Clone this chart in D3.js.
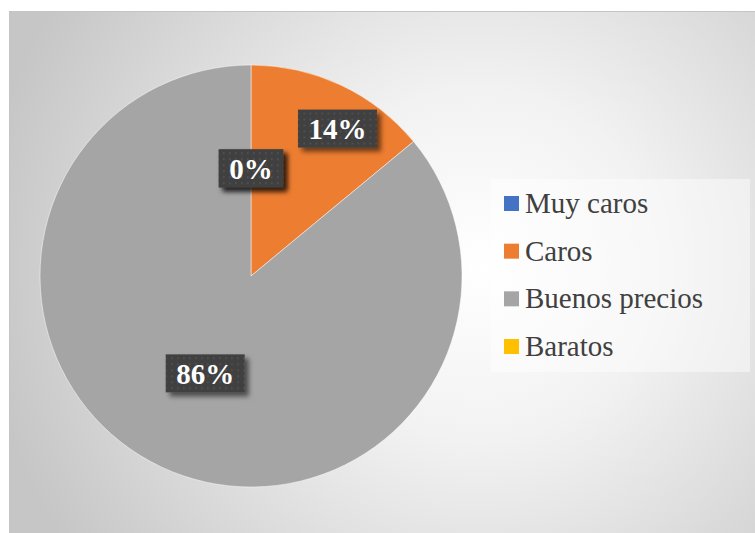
<!DOCTYPE html>
<html>
<head>
<meta charset="utf-8">
<script src="https://cdn.jsdelivr.net/npm/d3@7"></script>
<style>
  html, body { margin: 0; padding: 0; background: #fff; }
  svg { display: block; }
</style>
</head>
<body>
<svg id="chart" width="755" height="533"></svg>
<script>
// Survey answers: opinion on prices
const categories = ["Muy caros", "Caros", "Buenos precios", "Baratos"];
const values = [0, 14, 86, 0];
const labels = ["0%", "14%", "86%", "0%"];
const colors = ["#4472C4", "#ED7D31", "#A5A5A5", "#FFC000"];

const W = 755, H = 533;
const svg = d3.select("#chart");
const defs = svg.append("defs");

// Soft radial background of the chart area
const bg = defs.append("radialGradient")
  .attr("id", "bgGrad")
  .attr("gradientUnits", "userSpaceOnUse")
  .attr("cx", 480).attr("cy", 265).attr("r", 500);
bg.append("stop").attr("offset", "0%").attr("stop-color", "#ffffff");
bg.append("stop").attr("offset", "35%").attr("stop-color", "#f2f2f2");
bg.append("stop").attr("offset", "100%").attr("stop-color", "#c6c6c6");

// Dotted dark fill for the data labels
const pat = defs.append("pattern")
  .attr("id", "dots")
  .attr("patternUnits", "userSpaceOnUse")
  .attr("width", 6).attr("height", 6);
pat.append("rect").attr("width", 6).attr("height", 6).attr("fill", "#404040");
pat.append("rect").attr("x", 2).attr("y", 2).attr("width", 1.6).attr("height", 1.6).attr("fill", "#565656");

const shadow = defs.append("filter")
  .attr("id", "labelShadow")
  .attr("x", "-30%").attr("y", "-30%").attr("width", "160%").attr("height", "170%");
shadow.append("feDropShadow")
  .attr("dx", 4).attr("dy", 4).attr("stdDeviation", 2.5)
  .attr("flood-color", "#000").attr("flood-opacity", 0.55);

// Chart area
svg.append("rect")
  .attr("x", 9.5).attr("y", 11.5)
  .attr("width", W - 9).attr("height", H - 11)
  .attr("fill", "url(#bgGrad)")
  .attr("stroke", "#c4c4c4").attr("stroke-width", 1);

// Pie
const cx = 251, cy = 276, R = 211;
const pie = d3.pie().sort(null).value(d => d.value);
const data = categories.map((c, i) => ({ name: c, value: values[i], label: labels[i], color: colors[i] }));
const arcs = pie(data);
const arc = d3.arc().innerRadius(0).outerRadius(R);

const g = svg.append("g").attr("transform", `translate(${cx},${cy})`);
g.selectAll("path.slice")
  .data(arcs)
  .join("path")
  .attr("class", "slice")
  .attr("d", arc)
  .attr("fill", d => d.data.color)
  .attr("stroke", "#ffffff")
  .attr("stroke-opacity", 0.6)
  .attr("stroke-width", d => d.value > 0 ? 0.8 : 0);

// Label placement: centre of each slice, the narrow slice pushed toward its rim
const labelPlace = d => {
  const mid = (d.startAngle + d.endAngle) / 2;
  const share = d.value / d3.sum(values);
  const rf = share > 0 && share < 0.25 ? 0.81 : 0.51;
  const a = share > 0 && share < 0.25 ? mid + 5.2 * Math.PI / 180 : mid;
  return [Math.sin(a) * R * rf, -Math.cos(a) * R * rf];
};

const lab = g.selectAll("g.lab")
  .data(arcs)
  .join("g")
  .attr("class", "lab")
  .attr("transform", d => `translate(${labelPlace(d)})`);

lab.each(function (d) {
  const el = d3.select(this);
  const t = el.append("text")
    .attr("text-anchor", "middle")
    .attr("dy", "0.35em")
    .attr("font-family", "'Liberation Serif', 'Times New Roman', serif")
    .attr("font-weight", "bold")
    .attr("font-size", 29)
    .attr("fill", "#ffffff")
    .text(d.data.label);
  const bb = t.node().getBBox();
  const padX = 10.5, h = 38;
  el.insert("rect", "text")
    .attr("x", -bb.width / 2 - padX)
    .attr("y", -h / 2)
    .attr("width", bb.width + 2 * padX)
    .attr("height", h)
    .attr("fill", "url(#dots)")
    .attr("filter", "url(#labelShadow)");
});

// Legend
const legX = 491, legY = 179, legW = 259, legH = 193;
svg.append("rect")
  .attr("x", legX).attr("y", legY)
  .attr("width", legW).attr("height", legH)
  .attr("fill", "#ffffff").attr("fill-opacity", 0.45);

const rowY = d3.scalePoint().domain(categories).range([203.5, 346.5]);
const leg = svg.append("g").selectAll("g")
  .data(data)
  .join("g")
  .attr("transform", d => `translate(504,${rowY(d.name)})`);
leg.append("rect")
  .attr("x", 0).attr("y", -7.5)
  .attr("width", 15).attr("height", 15)
  .attr("fill", d => d.color);
leg.append("text")
  .attr("x", 21).attr("y", 9.5)
  .attr("font-family", "'Liberation Serif', 'Times New Roman', serif")
  .attr("font-size", 29)
  .attr("fill", "#404040")
  .text(d => d.name);
</script>
</body>
</html>
